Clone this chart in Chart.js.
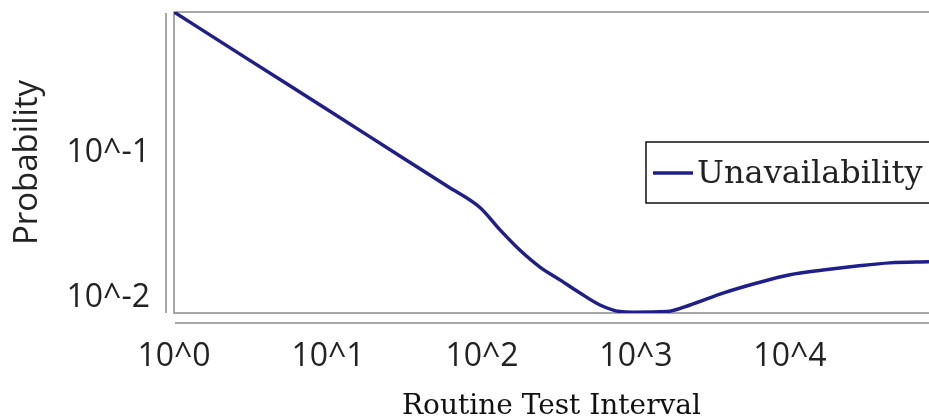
<!DOCTYPE html>
<html>
<head>
<meta charset="utf-8">
<script src="https://cdn.jsdelivr.net/npm/chart.js@4/dist/chart.umd.min.js"></script>
<style>
  html, body { margin: 0; padding: 0; background: #ffffff; }
  #wrap { width: 929px; height: 418px; position: relative; }
</style>
</head>
<body>
<div id="wrap"><canvas id="c" width="929" height="418"></canvas></div>
<script>
// ---- data ----
const intervals = [1, 3, 10, 30, 60, 97, 131, 176, 238, 321, 433, 584, 787, 957, 1589, 2243, 3673, 6107, 10000, 16370, 27200, 44600, 80000];
const unavailability = [1, 0.475, 0.211, 0.100, 0.0625, 0.0448, 0.0314, 0.0228, 0.0174, 0.0142, 0.01153, 0.00953, 0.00858, 0.0085, 0.00858, 0.00953, 0.0115, 0.0135, 0.0154, 0.0166, 0.0177, 0.0186, 0.0189];
const xTickValues = [1, 10, 100, 1000, 10000];
const xTickLabels = ['10^0', '10^1', '10^2', '10^3', '10^4'];
const yTickValues = [0.01, 0.1];
const yTickLabels = ['10^-2', '10^-1'];
const seriesName = 'Unavailability';
const xTitle = 'Routine Test Interval';
const yTitle = 'Probability';

const lineColor = '#1f1f8c';
const frameColor = '#8a8a8a';
const textColor = '#222222';

const framePlugin = {
  id: 'framePlugin',
  beforeDatasetsDraw(chart) {
    const { ctx, chartArea: a } = chart;
    ctx.save();
    ctx.strokeStyle = frameColor;
    ctx.lineWidth = 1.5;
    ctx.beginPath();
    ctx.moveTo(a.right + 5, a.top);
    ctx.lineTo(a.left, a.top);
    ctx.lineTo(a.left, a.bottom);
    ctx.lineTo(a.right + 5, a.bottom);
    ctx.moveTo(a.left - 8, a.top + 1);
    ctx.lineTo(a.left - 8, a.bottom);
    ctx.moveTo(a.left + 1, a.bottom + 10);
    ctx.lineTo(a.right + 5, a.bottom + 10);
    ctx.stroke();
    ctx.restore();
  },
  afterDatasetsDraw(chart) {
    const { ctx } = chart;
    ctx.save();
    ctx.fillStyle = '#ffffff';
    ctx.fillRect(646, 142, 320, 61);
    ctx.strokeStyle = '#111111';
    ctx.lineWidth = 1.5;
    ctx.strokeRect(646, 142, 320, 61);
    ctx.strokeStyle = lineColor;
    ctx.lineWidth = 3.5;
    ctx.beginPath();
    ctx.moveTo(653, 173);
    ctx.lineTo(693, 173);
    ctx.stroke();
    ctx.fillStyle = textColor;
    ctx.font = '32px "DejaVu Serif"';
    ctx.textBaseline = 'alphabetic';
    ctx.textAlign = 'left';
    ctx.fillText(seriesName, 697, 183);
    ctx.restore();
  }
};

new Chart(document.getElementById('c'), {
  type: 'line',
  data: {
    datasets: [{
      label: seriesName,
      data: intervals.map((x, i) => ({ x: x, y: unavailability[i] })),
      borderColor: lineColor,
      backgroundColor: lineColor,
      borderWidth: 3.5,
      pointRadius: 0,
      cubicInterpolationMode: 'monotone',
      fill: false
    }]
  },
  options: {
    responsive: false,
    animation: false,
    events: [],
    layout: { padding: { top: 12, left: 0, right: 0, bottom: 0 } },
    plugins: {
      legend: { display: false },
      tooltip: { enabled: false }
    },
    scales: {
      x: {
        type: 'logarithmic',
        min: 1,
        max: 80000,
        grid: { display: false, drawTicks: false },
        border: { display: false },
        afterBuildTicks: (s) => { s.ticks = xTickValues.map(v => ({ value: v })); },
        afterFit: (s) => { s.height = 105; s.paddingLeft = 0; s.paddingRight = 0; },
        ticks: {
          autoSkip: false,
          maxRotation: 0,
          padding: 25,
          color: textColor,
          font: { family: '"Open Sans"', size: 32 },
          callback: (v, i) => xTickLabels[i]
        },
        title: {
          display: true,
          text: xTitle,
          color: '#111111',
          font: { family: '"DejaVu Serif"', size: 28 },
          padding: { top: 0, bottom: -6 }
        }
      },
      y: {
        type: 'logarithmic',
        min: 0.00839,
        max: 1,
        grid: { display: false, drawTicks: false },
        border: { display: false },
        afterBuildTicks: (s) => { s.ticks = yTickValues.map(v => ({ value: v })); },
        afterFit: (s) => { s.width = 174; s.paddingTop = 0; s.paddingBottom = 0; },
        ticks: {
          autoSkip: false,
          padding: 24,
          labelOffset: -4,
          color: textColor,
          font: { family: '"Open Sans"', size: 32 },
          callback: (v, i) => yTickLabels[i]
        },
        title: {
          display: true,
          text: yTitle,
          color: textColor,
          font: { family: '"Open Sans"', size: 33 },
          padding: { top: 8, bottom: 0 }
        }
      }
    }
  },
  plugins: [framePlugin]
});
</script>
</body>
</html>
